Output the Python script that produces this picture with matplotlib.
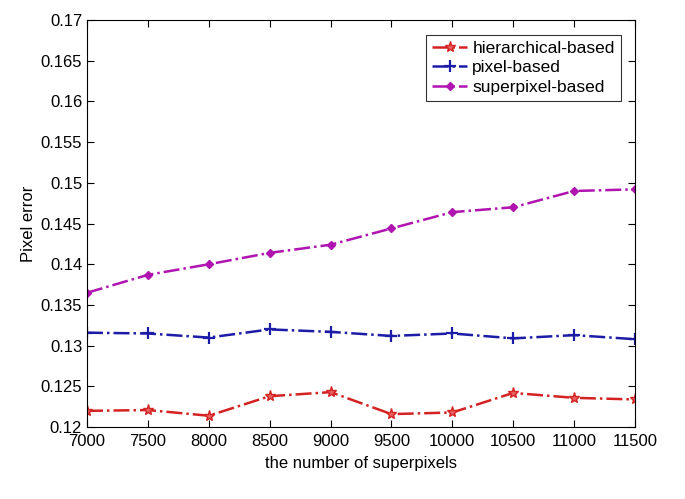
import numpy as np
from matplotlib import pyplot as plt

superpixels = [7000, 7500, 8000, 8500, 9000, 9500, 10000, 10500, 11000, 11500]
hierarchical = [0.1220, 0.1221, 0.1214, 0.1238, 0.1243, 0.1216, 0.1218, 0.1242, 0.1236, 0.1234]
pixel = [0.1316, 0.1315, 0.1310, 0.1320, 0.1317, 0.1312, 0.1315, 0.1309, 0.1313, 0.1308]
superpixel = [0.1365, 0.1387, 0.1400, 0.1414, 0.1424, 0.1444, 0.1464, 0.1470, 0.1490, 0.1492]
yticks = [0.12, 0.125, 0.13, 0.135, 0.14, 0.145, 0.15, 0.155, 0.16, 0.165, 0.17]

plt.rcParams["font.family"] = ["Liberation Sans", "DejaVu Sans"]

fig = plt.figure(figsize=(6.85, 4.99), dpi=100)
ax = fig.add_axes([0.127, 0.144, 0.800, 0.816])

ax.plot(superpixels, hierarchical, linestyle="-.", color="#d42222", lw=1.8,
        marker="*", ms=8, mfc="#e86060", mec="#d42222", label="hierarchical-based")
ax.plot(superpixels, pixel, linestyle="-.", color="#1c1ca6", lw=1.8,
        marker="+", ms=8, mew=1.6, label="pixel-based")
ax.plot(superpixels, superpixel, linestyle="-.", color="#b014b0", lw=1.8,
        marker="D", ms=4.5, label="superpixel-based")

ax.set_xlim(7000, 11500)
ax.set_ylim(0.12, 0.17)
ax.set_xticks(superpixels)
ax.set_yticks(yticks)
ax.set_yticklabels([f"{v:g}" for v in yticks])
ax.tick_params(direction="in", top=True, right=True, labelsize=12, length=5)
ax.tick_params(axis="x", pad=5)
for s in ax.spines.values():
    s.set_linewidth(0.8)

ax.set_xlabel("the number of superpixels", fontsize=12, labelpad=5)
ax.set_ylabel("Pixel error", fontsize=12, labelpad=3)

leg = ax.legend(loc="upper right", fontsize=12.5, frameon=True, fancybox=False,
                edgecolor="black", handlelength=2.0, handletextpad=0.3,
                borderpad=0.35, labelspacing=0.25, bbox_to_anchor=(0.99, 0.985))
leg.get_frame().set_linewidth(0.8)

fig.savefig("out.png", dpi=100)
